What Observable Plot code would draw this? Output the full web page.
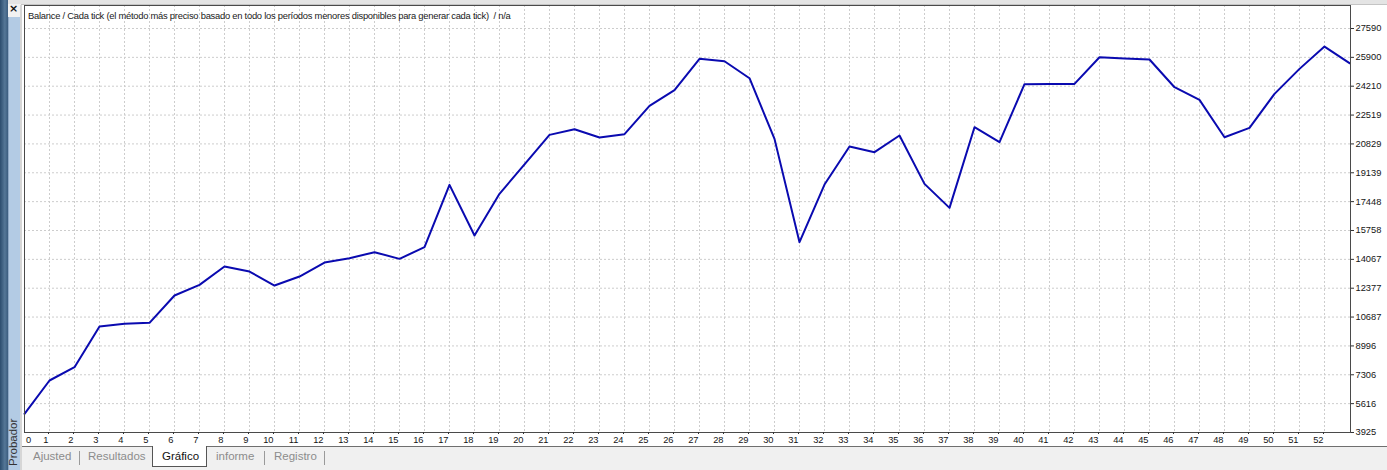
<!DOCTYPE html>
<html>
<head>
<meta charset="utf-8">
<script src="https://cdn.jsdelivr.net/npm/d3@7"></script>
<script src="https://cdn.jsdelivr.net/npm/@observablehq/plot@0.6"></script>
<style>
  html, body { margin: 0; padding: 0; background: #fff; }
  #wrap { position: relative; width: 1387px; height: 470px; overflow: hidden; background: #fff; font-family: "Liberation Sans", Arial, sans-serif; }
  #chart { position: absolute; left: 0; top: 0; }
  .abs { position: absolute; }
  #tabs { position: absolute; left: 22px; top: 446px; width: 1365px; height: 24px; background: #f0f0f0; border-top: 1px solid #6f6f6f; box-sizing: border-box; }
  .tab { position: absolute; top: 3px; font-size: 11.5px; color: #8c8c8c; }
  .sep { position: absolute; top: 4px; width: 1px; height: 14px; background: #9a9a9a; }
  #sel { position: absolute; left: 130px; top: -1px; width: 53px; height: 20px; background: #fff; border: 1px solid #555; border-top: none; }
</style>
</head>
<body>
<div id="wrap">
  <div id="chart"></div>
  <div class="abs" style="left:0;top:0;width:1387px;height:4px;background:#e4e4e4;border-bottom:1px solid #c4c4c4;"></div>
  <div class="abs" style="left:0;top:0;width:8px;height:470px;background:linear-gradient(90deg,#2c4d6e,#557797 60%,#3b5d7f);"></div>
  <div class="abs" style="left:8px;top:4px;width:13px;height:13px;background:#f2f2f2;"></div>
  <div class="abs" style="left:9px;top:2px;font:bold 11px 'DejaVu Sans',sans-serif;color:#111;">×</div>
  <div class="abs" style="left:8px;top:17px;width:12px;height:453px;background:#b3cbe4;border-left:1px solid #8fa9c6;box-sizing:border-box;"></div>
  <div class="abs" style="left:20px;top:5px;width:2px;height:465px;background:#d6d6d6;"></div>
  <div class="abs" style="left:8px;top:466px;width:14px;font-size:11.5px;color:#333;transform-origin:0 0;transform:rotate(-90deg) translate(0,-1px);white-space:nowrap;">Probador</div>
  <div id="title" class="abs" style="left:28px;top:10px;font-size:9.4px;letter-spacing:-0.25px;color:#1a1a1a;white-space:pre;"></div>
  <div id="tabs">
    <div id="sel"></div>
    <span class="tab" style="left:11px;">Ajusted</span>
    <div class="sep" style="left:57px;"></div>
    <span class="tab" style="left:66px;">Resultados</span>
    <span class="tab" style="left:140px;color:#111;">Gráfico</span>
    <span class="tab" style="left:194px;">informe</span>
    <div class="sep" style="left:242px;"></div>
    <span class="tab" style="left:252px;">Registro</span>
    <div class="sep" style="left:302px;"></div>
  </div>
</div>
<script>
// ---- data ----
const titleText = "Balance / Cada tick (el método más preciso basado en todo los períodos menores disponibles para generar cada tick)  / n/a";
const tradeIndex = [0,1,2,3,4,5,6,7,8,9,10,11,12,13,14,15,16,17,18,19,20,21,22,23,24,25,26,27,28,29,30,31,32,33,34,35,36,37,38,39,40,41,42,43,44,45,46,47,48,49,50,51,52,53];
const balance = [5020,6971,7751,10133,10290,10349,11949,12574,13648,13355,12535,13062,13882,14135,14487,14097,14779,18431,15463,17904,19633,21360,21691,21203,21398,23058,23975,25811,25674,24678,21125,15072,18450,20676,20344,21320,18490,17084,21808,20930,24330,24346,24346,25908,25830,25772,24151,23409,21222,21769,23760,25225,26533,25557];
const xTickLabels = [0,1,2,3,4,5,6,7,8,9,10,11,12,13,14,15,16,17,18,19,20,21,22,23,24,25,26,27,28,29,30,31,32,33,34,35,36,37,38,39,40,41,42,43,44,45,46,47,48,49,50,51,52];
const yTickLabels = [3925,5616,7306,8996,10687,12377,14067,15758,17448,19139,20829,22519,24210,25900,27590];

const rows = tradeIndex.map((i, k) => ({i, b: balance[k]}));
document.getElementById("title").textContent = titleText;

const chart = Plot.plot({
  width: 1387,
  height: 446,
  marginLeft: 24,
  marginRight: 37,
  marginTop: 5,
  marginBottom: 14,
  style: {fontFamily: "'Liberation Sans', Arial, sans-serif", fontSize: "9.3px", color: "#151515", background: "transparent", overflow: "visible"},
  x: {domain: [0, 53], range: [24, 1349]},
  y: {domain: [3925, 27590], range: [432, 28]},
  marks: [
    Plot.ruleX(xTickLabels.slice(1), {x: d => d, stroke: "#cdcdcd", strokeDasharray: "2,2", strokeWidth: 1}),
    Plot.ruleY(yTickLabels.slice(1), {y: d => d, stroke: "#cdcdcd", strokeDasharray: "2,2", strokeWidth: 1}),
    Plot.line(rows, {x: "i", y: "b", stroke: "#0a0ab0", strokeWidth: 2, strokeLinejoin: "round"}),
    Plot.frame({stroke: "#4a4a4a", strokeWidth: 1}),
    Plot.axisY(yTickLabels, {anchor: "right", tickSize: 3, tickPadding: 2, tickFormat: d => String(d), label: null, stroke: "#333"}),
    Plot.axisX(xTickLabels.slice(1), {anchor: "bottom", tickSize: 2, tickPadding: 2, textAnchor: "end", dx: -1, tickFormat: d => String(d), label: null, stroke: "#333"}),
    Plot.axisX(xTickLabels.slice(0, 1), {anchor: "bottom", tickSize: 0, tickPadding: 4, textAnchor: "start", dx: 1.5, tickFormat: d => String(d), label: null})
  ]
});
document.getElementById("chart").appendChild(chart);
</script>
</body>
</html>
